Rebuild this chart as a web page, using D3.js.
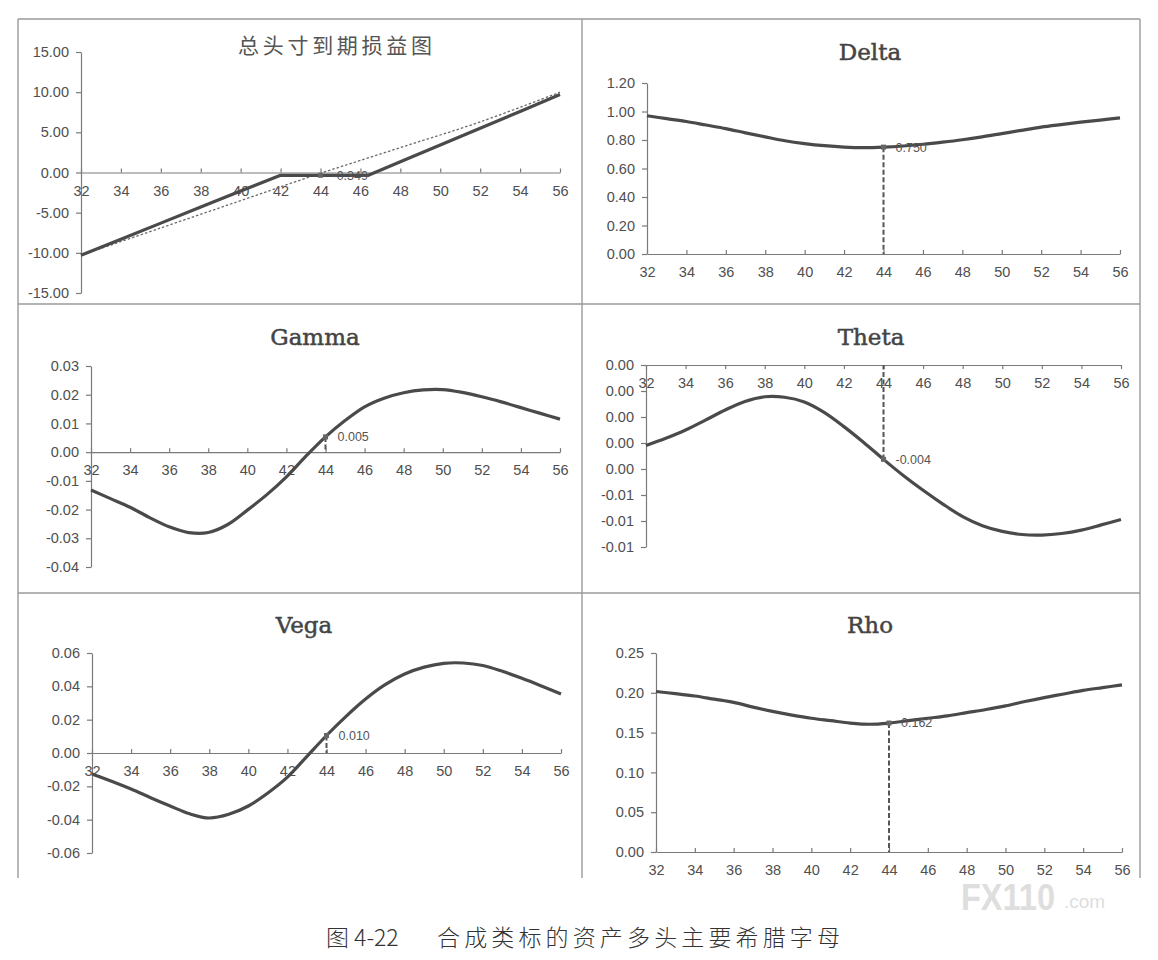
<!DOCTYPE html>
<html>
<head>
<meta charset="utf-8">
<script src="https://cdn.jsdelivr.net/npm/d3@7/dist/d3.min.js"></script>
<style>
  body { margin: 0; background: #fff; }
  svg { display: block; }
  .tick text { font-family: "Liberation Sans", Arial, sans-serif; font-size: 14.5px; fill: #4f4f4f; }
  .axis path, .axis line { stroke: #7a7a7a; stroke-width: 1.2; }
</style>
</head>
<body>
<div id="chart"></div>
<script>
// Underlying price grid (x axis)
const xTicks = [32, 34, 36, 38, 40, 42, 44, 46, 48, 50, 52, 54, 56];
const prices = [32, 33, 34, 35, 36, 37, 38, 39, 40, 41, 42, 43, 44, 45, 46, 47, 48, 49, 50, 51, 52, 53, 54, 55, 56];

// Expiry P&L of the total position
const pnlX = [32, 34, 36, 38, 40, 42, 44, 46, 46.4, 48, 50, 52, 54, 56];
const pnlValues = [-10.3, -8.3, -6.3, -4.3, -2.3, -0.35, -0.35, -0.35, -0.35, 1.33, 3.42, 5.51, 7.6, 9.7];
const pnlRefX = [32, 36, 40, 44, 48, 52, 56];
const pnlRefValues = [-10.3, -6.9, -3.5, -0.1, 3.1, 6.3, 10.0];

// Greeks
const deltaValues = [0.970, 0.950, 0.930, 0.905, 0.880, 0.850, 0.822, 0.795, 0.775, 0.760, 0.750, 0.746, 0.750,
  0.758, 0.770, 0.785, 0.802, 0.822, 0.845, 0.868, 0.890, 0.908, 0.925, 0.940, 0.955];
const gammaValues = [-0.0132, -0.0162, -0.0192, -0.0228, -0.0260, -0.0280, -0.0280, -0.0252, -0.0202, -0.0148,
  -0.0086, -0.0014, 0.0053, 0.0110, 0.0158, 0.0188, 0.0207, 0.0217, 0.0218, 0.0208, 0.0193, 0.0175, 0.0155, 0.0135, 0.0115];
const thetaValues = [-0.00310, -0.00282, -0.00250, -0.00212, -0.00173, -0.00140, -0.00122, -0.00124, -0.00142,
  -0.00182, -0.00237, -0.00298, -0.00363, -0.00425, -0.00482, -0.00535, -0.00583, -0.00618, -0.00640, -0.00652,
  -0.00654, -0.00648, -0.00635, -0.00615, -0.00594];
const vegaValues = [-0.0126, -0.0170, -0.0216, -0.0268, -0.0318, -0.0365, -0.0390, -0.0368, -0.0318, -0.0240,
  -0.0145, -0.0020, 0.0105, 0.0220, 0.0324, 0.0410, 0.0474, 0.0515, 0.0538, 0.0540, 0.0525, 0.0490, 0.0448, 0.0402, 0.0354];
const rhoValues = [0.2016, 0.199, 0.196, 0.192, 0.188, 0.182, 0.1766, 0.172, 0.168, 0.165, 0.162, 0.1605, 0.162,
  0.165, 0.168, 0.171, 0.175, 0.179, 0.1835, 0.189, 0.194, 0.1985, 0.203, 0.2065, 0.210];

// Y tick values and labels per chart
const pnlTicks = [15, 10, 5, 0, -5, -10, -15];
const pnlTickLabels = ["15.00", "10.00", "5.00", "0.00", "-5.00", "-10.00", "-15.00"];
const deltaTicks = [1.2, 1.0, 0.8, 0.6, 0.4, 0.2, 0];
const deltaTickLabels = ["1.20", "1.00", "0.80", "0.60", "0.40", "0.20", "0.00"];
const gammaTicks = [0.03, 0.02, 0.01, 0, -0.01, -0.02, -0.03, -0.04];
const gammaTickLabels = ["0.03", "0.02", "0.01", "0.00", "-0.01", "-0.02", "-0.03", "-0.04"];
const thetaTicks = [0, -0.001, -0.002, -0.003, -0.004, -0.005, -0.006, -0.007];
const thetaTickLabels = ["0.00", "0.00", "0.00", "0.00", "0.00", "-0.01", "-0.01", "-0.01"];
const vegaTicks = [0.06, 0.04, 0.02, 0, -0.02, -0.04, -0.06];
const vegaTickLabels = ["0.06", "0.04", "0.02", "0.00", "-0.02", "-0.04", "-0.06"];
const rhoTicks = [0.25, 0.2, 0.15, 0.1, 0.05, 0];
const rhoTickLabels = ["0.25", "0.20", "0.15", "0.10", "0.05", "0.00"];

// Value called out at the current price
const markX = 44;
const pnlMark = -0.35, pnlMarkLabel = "-0.349";
const deltaMark = 0.750, deltaMarkLabel = "0.750";
const gammaMark = 0.0053, gammaMarkLabel = "0.005";
const thetaMark = -0.00363, thetaMarkLabel = "-0.004";
const vegaMark = 0.0105, vegaMarkLabel = "0.010";
const rhoMark = 0.162, rhoMarkLabel = "0.162";

const W = 1158, H = 960;
const svg = d3.select("#chart").append("svg")
  .attr("width", W).attr("height", H)
  .attr("viewBox", `0 0 ${W} ${H}`);

svg.append("rect").attr("width", W).attr("height", H).attr("fill", "#fff");

// Panel frame
const frame = svg.append("g").attr("stroke", "#9a9a9a").attr("stroke-width", 1.4).attr("fill", "none");
frame.append("line").attr("x1", 18).attr("x2", 1140).attr("y1", 19).attr("y2", 19);
frame.append("line").attr("x1", 18).attr("x2", 1140).attr("y1", 304).attr("y2", 304);
frame.append("line").attr("x1", 18).attr("x2", 1140).attr("y1", 593).attr("y2", 593);
[18, 582, 1140].forEach(x => {
  frame.append("line").attr("x1", x).attr("x2", x).attr("y1", 19).attr("y2", 878);
});

const lineColor = "#4a4a4a";

function drawPanel(cfg) {
  const x = d3.scaleLinear().domain([32, 56]).range([cfg.x0, cfg.x1]);
  const y = d3.scaleLinear().domain(cfg.yDomain).range(cfg.yRange);
  const g = svg.append("g");

  // title
  const title = g.append("text")
    .attr("x", cfg.titleX).attr("y", cfg.titleY)
    .attr("fill", "#444")
    .text(cfg.title);
  if (cfg.cjk) {
    title.attr("font-family", "'Noto Sans CJK SC', sans-serif")
      .attr("font-size", 21).attr("fill", "#555")
      .attr("textLength", 194).attr("lengthAdjust", "spacing");
  } else {
    title.attr("font-family", "'DejaVu Serif', 'Liberation Serif', serif")
      .attr("font-size", 23).attr("text-anchor", "middle")
      .attr("stroke", "#444").attr("stroke-width", 0.5);
  }

  // y axis
  const labelOf = new Map(cfg.yTicks.map((v, i) => [v, cfg.yTickLabels[i]]));
  g.append("g").attr("class", "axis")
    .attr("transform", `translate(${cfg.x0},0)`)
    .call(d3.axisLeft(y).tickValues(cfg.yTicks).tickFormat(v => labelOf.get(v))
      .tickSizeInner(5).tickSizeOuter(0).tickPadding(7));

  // x axis on the zero line
  const xAxis = d3.axisBottom(x).tickValues(xTicks).tickFormat(d3.format("d")).tickSizeOuter(0);
  if (cfg.xTicksDown) xAxis.tickSizeInner(4).tickPadding(9);
  else xAxis.tickSizeInner(-4).tickPadding(13);
  g.append("g").attr("class", "axis")
    .attr("transform", `translate(0,${y(0)})`)
    .call(xAxis);

  // reference curve (dotted)
  if (cfg.refX) {
    g.append("path")
      .datum(cfg.refX.map((d, i) => [d, cfg.refValues[i]]))
      .attr("fill", "none").attr("stroke", "#6a6a6a")
      .attr("stroke-width", 1.3).attr("stroke-dasharray", "2.5,2")
      .attr("d", d3.line().curve(d3.curveCatmullRom.alpha(0.5)).x(d => x(d[0])).y(d => y(d[1])));
  }

  // main curve
  g.append("path")
    .datum(cfg.xs.map((d, i) => [d, cfg.values[i]]))
    .attr("fill", "none").attr("stroke", lineColor)
    .attr("stroke-width", 3.2).attr("stroke-linejoin", "round")
    .attr("d", d3.line().curve(cfg.linear ? d3.curveLinear : d3.curveCatmullRom.alpha(0.5))
      .x(d => x(d[0])).y(d => y(d[1])));

  // drop line at the current price
  if (cfg.drop) {
    g.append("line")
      .attr("x1", x(markX)).attr("x2", x(markX))
      .attr("y1", y(cfg.mark)).attr("y2", y(0))
      .attr("stroke", "#555").attr("stroke-width", 2)
      .attr("stroke-dasharray", "5,2.5");
  }
  g.append("rect")
    .attr("x", x(markX) - 2.5).attr("y", y(cfg.mark) - 2.5)
    .attr("width", 5).attr("height", 5).attr("fill", "#666");

  g.append("text")
    .attr("x", x(markX) + 12).attr("y", y(cfg.mark))
    .attr("dy", "0.35em")
    .attr("font-family", "'Liberation Sans', Arial, sans-serif")
    .attr("font-size", 12.5).attr("fill", "#555")
    .text(cfg.markLabel);
}

drawPanel({
  title: "总头寸到期损益图", cjk: true, titleX: 238, titleY: 53,
  x0: 81, x1: 560, yDomain: [-15, 15], yRange: [293, 52],
  yTicks: pnlTicks, yTickLabels: pnlTickLabels,
  xs: pnlX, values: pnlValues, linear: true,
  refX: pnlRefX, refValues: pnlRefValues,
  mark: pnlMark, markLabel: pnlMarkLabel, drop: false
});

drawPanel({
  title: "Delta", titleX: 870, titleY: 60,
  x0: 647, x1: 1120, yDomain: [0, 1.2], yRange: [254, 83],
  yTicks: deltaTicks, yTickLabels: deltaTickLabels,
  xs: prices, values: deltaValues,
  mark: deltaMark, markLabel: deltaMarkLabel, drop: true
});

drawPanel({
  title: "Gamma", titleX: 315, titleY: 345,
  x0: 91, x1: 560, yDomain: [-0.04, 0.03], yRange: [567, 366],
  yTicks: gammaTicks, yTickLabels: gammaTickLabels,
  xs: prices, values: gammaValues,
  mark: gammaMark, markLabel: gammaMarkLabel, drop: true
});

drawPanel({
  title: "Theta", titleX: 871, titleY: 345,
  x0: 646, x1: 1121, yDomain: [-0.007, 0], yRange: [547, 365],
  yTicks: thetaTicks, yTickLabels: thetaTickLabels,
  xs: prices, values: thetaValues, xTicksDown: true,
  mark: thetaMark, markLabel: thetaMarkLabel, drop: true
});

drawPanel({
  title: "Vega", titleX: 304, titleY: 633,
  x0: 92, x1: 561, yDomain: [-0.06, 0.06], yRange: [853, 653],
  yTicks: vegaTicks, yTickLabels: vegaTickLabels,
  xs: prices, values: vegaValues,
  mark: vegaMark, markLabel: vegaMarkLabel, drop: true
});

drawPanel({
  title: "Rho", titleX: 870, titleY: 633,
  x0: 656, x1: 1122, yDomain: [0, 0.25], yRange: [852, 653],
  yTicks: rhoTicks, yTickLabels: rhoTickLabels,
  xs: prices, values: rhoValues,
  mark: rhoMark, markLabel: rhoMarkLabel, drop: true
});

// Watermark
svg.append("text")
  .attr("x", 961).attr("y", 910)
  .attr("font-family", "'Liberation Sans', Arial, sans-serif")
  .attr("font-weight", "bold").attr("font-size", 36)
  .attr("fill", "#dedede")
  .attr("textLength", 94).attr("lengthAdjust", "spacingAndGlyphs")
  .text("FX110");
svg.append("text")
  .attr("x", 1064).attr("y", 908)
  .attr("font-family", "'Liberation Sans', Arial, sans-serif")
  .attr("font-size", 19).attr("fill", "#dedede")
  .text(".com");

// Caption
svg.append("text")
  .attr("x", 326).attr("y", 946)
  .attr("font-family", "'Noto Sans CJK SC', sans-serif")
  .attr("font-size", 23).attr("font-weight", 300).attr("fill", "#333")
  .text("图 4-22");
svg.append("text")
  .attr("x", 437).attr("y", 946)
  .attr("font-family", "'Noto Sans CJK SC', sans-serif")
  .attr("font-size", 23).attr("font-weight", 300).attr("fill", "#333")
  .attr("textLength", 403).attr("lengthAdjust", "spacing")
  .text("合成类标的资产多头主要希腊字母");
</script>
</body>
</html>
